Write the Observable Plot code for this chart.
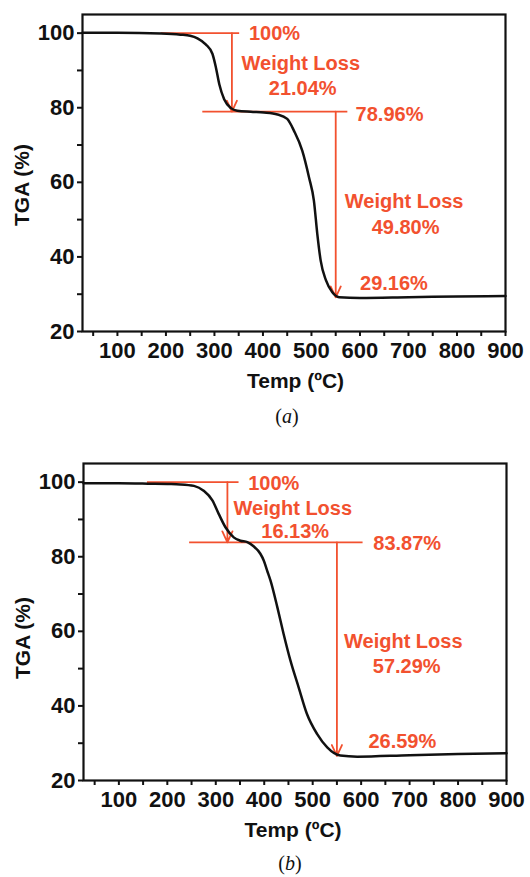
<!DOCTYPE html>
<html>
<head>
<meta charset="utf-8">
<script src="https://cdn.jsdelivr.net/npm/d3@7"></script>
<script src="https://cdn.jsdelivr.net/npm/@observablehq/plot@0.6"></script>
<style>
  body { margin: 0; background: #fff; width: 530px; height: 877px; position: relative; overflow: hidden; }
  .panel { position: absolute; left: 0; }
  .cap { position: absolute; width: 60px; text-align: center; font-family: "Liberation Serif", "Times New Roman", serif; font-size: 20px; line-height: 22px; color: #111; }
  .cap i { font-style: italic; }
</style>
</head>
<body>
<div id="pa" class="panel" style="top:0px"></div>
<div class="cap" style="top:405px; left:257px">(<i>a</i>)</div>
<div id="pb" class="panel" style="top:449px"></div>
<div class="cap" style="top:852px; left:260px">(<i>b</i>)</div>
<script>
// ---- Panel (a) data ----
const tempA = [28, 100, 190, 230, 250, 265, 282, 296, 303, 310, 320, 334, 347, 375, 402, 430, 450, 464, 481, 495, 505, 512, 519, 530, 543, 557, 600, 700, 800, 900];
const tgaA  = [100.1, 100.1, 99.9, 99.6, 99.3, 98.6, 97.0, 94.4, 90.8, 86.3, 82.3, 79.9, 79.2, 78.9, 78.7, 78.2, 77.0, 73.8, 68.5, 61.3, 55.1, 46.2, 39.0, 33.7, 30.5, 29.2, 29.0, 29.2, 29.4, 29.5];
const hLinesA = [{x1: 190, x2: 352, y: 100}, {x1: 276, x2: 575, y: 78.96}];
const arrowsA = [{x: 336, y1: 100, y2: 78.96}, {x: 550, y1: 78.96, y2: 29.16}];
const labelsA = [
  {x: 371, y: 100, text: "100%", anchor: "start"},
  {x: 478, y: 91.8, text: "Weight Loss", anchor: "middle"},
  {x: 482, y: 85.0, text: "21.04%", anchor: "middle"},
  {x: 591, y: 78.1, text: "78.96%", anchor: "start"},
  {x: 691, y: 54.8, text: "Weight Loss", anchor: "middle"},
  {x: 694, y: 47.9, text: "49.80%", anchor: "middle"},
  {x: 670, y: 32.9, text: "29.16%", anchor: "middle"}
];

// ---- Panel (b) data ----
const tempB = [27, 100, 160, 200, 227, 255, 275, 293, 306, 320, 337, 351, 365, 378, 392, 399, 406, 413, 427, 440, 454, 471, 488, 509, 530, 557, 592, 700, 800, 900];
const tgaB  = [99.7, 99.7, 99.6, 99.5, 99.4, 99.0, 97.7, 95.1, 91.5, 87.9, 85.2, 84.3, 83.9, 82.8, 80.8, 79.0, 76.3, 73.6, 66.5, 59.3, 52.2, 45.0, 37.9, 32.5, 28.9, 26.7, 26.4, 26.8, 27.1, 27.3];
const hLinesB = [{x1: 159, x2: 348, y: 100}, {x1: 246, x2: 604, y: 83.87}];
const arrowsB = [{x: 324, y1: 100, y2: 83.87}, {x: 550, y1: 83.87, y2: 26.59}];
const labelsB = [
  {x: 367, y: 99.6, text: "100%", anchor: "start"},
  {x: 459, y: 92.9, text: "Weight Loss", anchor: "middle"},
  {x: 464, y: 86.8, text: "16.13%", anchor: "middle"},
  {x: 625, y: 83.5, text: "83.87%", anchor: "start"},
  {x: 687, y: 57.3, text: "Weight Loss", anchor: "middle"},
  {x: 694, y: 50.5, text: "57.29%", anchor: "middle"},
  {x: 685, y: 30.5, text: "26.59%", anchor: "middle"}
];

const xTicks = d3.range(50, 901, 50);
const yTicks = d3.range(20, 101, 10);
const RED = "#f2512f";
const FONT = "'Liberation Sans', Arial, Helvetica, sans-serif";

function panel(temps, tga, hLines, arrows, labels, opts) {
  const data = temps.map((t, i) => ({t, v: tga[i]}));
  return Plot.plot({
    width: 530,
    height: 395,
    marginTop: 14,
    marginBottom: 64,
    marginLeft: opts.ml,
    marginRight: opts.mr,
    style: {fontFamily: FONT, fontWeight: "bold", color: "#111", background: "#fff"},
    x: {domain: [opts.x0, 900]},
    y: {domain: [20, 105]},
    marks: [
      Plot.axisX({ticks: xTicks, tickFormat: d => d % 100 === 0 ? d : "", tickSize: 5, tickPadding: 6, fontSize: 22, fontWeight: "bold", strokeWidth: 2, label: null}),
      Plot.axisY({ticks: yTicks, tickFormat: d => d % 20 === 0 ? d : "", tickSize: 5, tickPadding: 3, fontSize: 22, fontWeight: "bold", strokeWidth: 2, label: null}),
      Plot.ruleY(hLines, {x1: "x1", x2: "x2", y: "y", stroke: RED, strokeWidth: 1.8}),
      Plot.arrow(arrows, {x1: "x", x2: "x", y1: "y1", y2: "y2", stroke: RED, strokeWidth: 1.8, headLength: 10, headAngle: 50, insetStart: 0, insetEnd: 0}),
      Plot.line(data, {x: "t", y: "v", stroke: "#111", strokeWidth: 2.5, curve: "monotone-x"}),
      Plot.text(labels.filter(d => d.anchor === "start"), {x: "x", y: "y", text: "text", textAnchor: "start", fill: RED, fontSize: 20, fontWeight: "bold"}),
      Plot.text(labels.filter(d => d.anchor === "middle"), {x: "x", y: "y", text: "text", textAnchor: "middle", fill: RED, fontSize: 20, fontWeight: "bold"}),
      Plot.text(["TGA (%)"], {frameAnchor: "left", dx: -60, dy: opts.ydy, rotate: -90, text: d => d, fontSize: 21, fontWeight: "bold", fill: "#111", lineAnchor: "middle", textAnchor: "middle"}),
      Plot.text(["Temp (ºC)"], {frameAnchor: "bottom", dx: opts.xdx, dy: 50, text: d => d, fontSize: 21, fontWeight: "bold", fill: "#111", lineAnchor: "middle", textAnchor: "middle"}),
      Plot.frame({stroke: "#111", strokeWidth: 2.2})
    ]
  });
}

document.getElementById("pa").append(panel(tempA, tgaA, hLinesA, arrowsA, labelsA, {ml: 82, mr: 25, x0: 28, ydy: 12, xdx: 1.5}));
document.getElementById("pb").append(panel(tempB, tgaB, hLinesB, arrowsB, labelsB, {ml: 83, mr: 24, x0: 27, ydy: 16, xdx: -2}));
</script>
</body>
</html>
